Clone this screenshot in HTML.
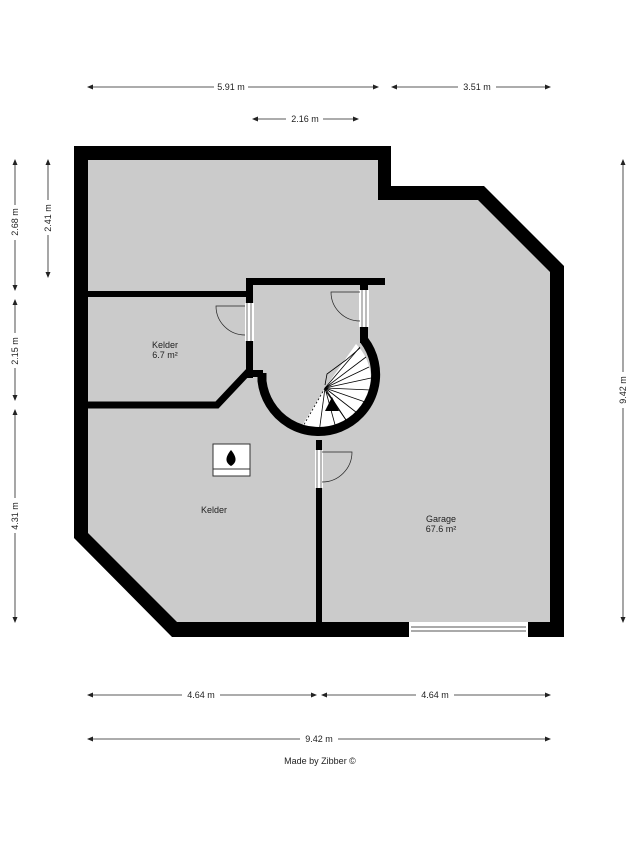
<!DOCTYPE html>
<html><head><meta charset="utf-8"><style>
html,body{margin:0;padding:0;background:#fff;}
svg{display:block;}
text{font-family:"Liberation Sans",sans-serif;font-size:9px;fill:#222;}
</style></head><body>
<svg width="638" height="850" viewBox="0 0 638 850" xmlns="http://www.w3.org/2000/svg">
<defs>
<marker id="a" markerWidth="6" markerHeight="6" refX="5" refY="3" orient="auto-start-reverse" markerUnits="userSpaceOnUse"><path d="M0,0.5 L6,3 L0,5.5z" fill="#222"/></marker>
</defs>
<path d="M74,146 L391,146 L391,186 L484,186 L564,266 L564,637 L172,637 L74,538 Z" fill="#000"/>
<path d="M88,160 L378,160 L378,200 L478,200 L550,272 L550,622 L177,622 L88,533 Z" fill="#cbcbcb"/>
<rect x="409" y="622" width="119" height="15" fill="#fff"/>
<line x1="411" y1="627" x2="526" y2="627" stroke="#555" stroke-width="1"/>
<line x1="411" y1="631" x2="526" y2="631" stroke="#555" stroke-width="1"/>
<rect x="88" y="291" width="160" height="6" fill="#000"/>
<rect x="246" y="278" width="139" height="7" fill="#000"/>
<rect x="246" y="278" width="7" height="100" fill="#000"/>
<path d="M249,371 L217,405 L88,405" fill="none" stroke="#000" stroke-width="7"/>
<rect x="246" y="370" width="17" height="7" fill="#000"/>
<rect x="360" y="285" width="8" height="58" fill="#000"/>
<rect x="316" y="440" width="6" height="182" fill="#000"/>
<!-- stairs -->
<path d="M325,388 L356,344 A52,52 0 0 1 300,429 Z" fill="#fff"/>
<g stroke="#000" stroke-width="0.8" fill="none">
<line x1="325" y1="388" x2="360" y2="347"/>
<line x1="325" y1="388" x2="366" y2="357"/>
<line x1="325" y1="388" x2="369" y2="367"/>
<line x1="325" y1="388" x2="371" y2="378"/>
<line x1="325" y1="388" x2="371" y2="390"/>
<line x1="325" y1="388" x2="368" y2="403"/>
<line x1="325" y1="388" x2="361" y2="416"/>
<line x1="325" y1="388" x2="350" y2="426"/>
<line x1="325" y1="388" x2="337" y2="432"/>
<line x1="325" y1="388" x2="319" y2="433"/>
<path d="M325,385 L327,374 L346,360 L360,348"/>
<path d="M325,390 L335,404 L346,420"/>
<line x1="325" y1="388" x2="302" y2="428" stroke-dasharray="2,2"/>
</g>
<path d="M332,397 L339,411 L325,411 Z" fill="#000"/>
<path d="M262,373 L262,381 A57,57 0 1 0 364,340" fill="none" stroke="#000" stroke-width="9"/>
<!-- doors -->
<rect x="245" y="303" width="9" height="38" fill="#fff"/>
<line x1="247" y1="303" x2="247" y2="341" stroke="#555" stroke-width="0.8"/>
<line x1="251" y1="303" x2="251" y2="341" stroke="#555" stroke-width="0.8"/>
<path d="M245,306 L216,306 A29,29 0 0 0 245,335" fill="none" stroke="#222" stroke-width="0.7"/>
<rect x="359" y="290" width="10" height="37" fill="#fff"/>
<line x1="362" y1="290" x2="362" y2="327" stroke="#555" stroke-width="0.8"/>
<line x1="366" y1="290" x2="366" y2="327" stroke="#555" stroke-width="0.8"/>
<path d="M360,292 L331,292 A29,29 0 0 0 360,321" fill="none" stroke="#222" stroke-width="0.7"/>
<rect x="315" y="450" width="8" height="38" fill="#fff"/>
<line x1="317" y1="450" x2="317" y2="488" stroke="#555" stroke-width="0.8"/>
<line x1="321" y1="450" x2="321" y2="488" stroke="#555" stroke-width="0.8"/>
<path d="M322,452 L352,452 A30,30 0 0 1 322,482" fill="none" stroke="#222" stroke-width="0.7"/>
<!-- fireplace -->
<rect x="213" y="444" width="37" height="32" fill="#fff" stroke="#333" stroke-width="1"/>
<line x1="213" y1="469" x2="250" y2="469" stroke="#333" stroke-width="1"/>
<path d="M231,450 C226,456 224,462 231,466 C238,462 236,456 231,450 Z" fill="#000"/>
<text x="165" y="348" text-anchor="middle">Kelder</text>
<text x="165" y="358" text-anchor="middle">6.7 m²</text>
<text x="214" y="513" text-anchor="middle">Kelder</text>
<text x="441" y="522" text-anchor="middle">Garage</text>
<text x="441" y="532" text-anchor="middle">67.6 m²</text>
<g stroke="#222" stroke-width="0.8" marker-start="url(#a)" marker-end="url(#a)">
<line x1="88" y1="87" x2="214" y2="87" marker-end="none"/>
<line x1="248" y1="87" x2="378" y2="87" marker-start="none"/>
<line x1="392" y1="87" x2="458" y2="87" marker-end="none"/>
<line x1="496" y1="87" x2="550" y2="87" marker-start="none"/>
<line x1="253" y1="119" x2="286" y2="119" marker-end="none"/>
<line x1="323" y1="119" x2="358" y2="119" marker-start="none"/>
<line x1="88" y1="695" x2="182" y2="695" marker-end="none"/>
<line x1="220" y1="695" x2="316" y2="695" marker-start="none"/>
<line x1="322" y1="695" x2="416" y2="695" marker-end="none"/>
<line x1="454" y1="695" x2="550" y2="695" marker-start="none"/>
<line x1="88" y1="739" x2="300" y2="739" marker-end="none"/>
<line x1="338" y1="739" x2="550" y2="739" marker-start="none"/>
<line x1="15" y1="160" x2="15" y2="205" marker-end="none"/>
<line x1="15" y1="240" x2="15" y2="290" marker-start="none"/>
<line x1="15" y1="300" x2="15" y2="333" marker-end="none"/>
<line x1="15" y1="368" x2="15" y2="400" marker-start="none"/>
<line x1="15" y1="410" x2="15" y2="498" marker-end="none"/>
<line x1="15" y1="533" x2="15" y2="622" marker-start="none"/>
<line x1="48" y1="160" x2="48" y2="200" marker-end="none"/>
<line x1="48" y1="235" x2="48" y2="277" marker-start="none"/>
<line x1="623" y1="160" x2="623" y2="372" marker-end="none"/>
<line x1="623" y1="408" x2="623" y2="622" marker-start="none"/>
</g>
<text x="231" y="90" text-anchor="middle">5.91 m</text>
<text x="477" y="90" text-anchor="middle">3.51 m</text>
<text x="305" y="122" text-anchor="middle">2.16 m</text>
<text x="201" y="698" text-anchor="middle">4.64 m</text>
<text x="435" y="698" text-anchor="middle">4.64 m</text>
<text x="319" y="742" text-anchor="middle">9.42 m</text>
<text transform="translate(18,222) rotate(-90)" text-anchor="middle">2.68 m</text>
<text transform="translate(18,351) rotate(-90)" text-anchor="middle">2.15 m</text>
<text transform="translate(18,516) rotate(-90)" text-anchor="middle">4.31 m</text>
<text transform="translate(51,218) rotate(-90)" text-anchor="middle">2.41 m</text>
<text transform="translate(626,390) rotate(-90)" text-anchor="middle">9.42 m</text>
<text x="320" y="764" text-anchor="middle">Made by Zibber ©</text>
</svg>
</body></html>
